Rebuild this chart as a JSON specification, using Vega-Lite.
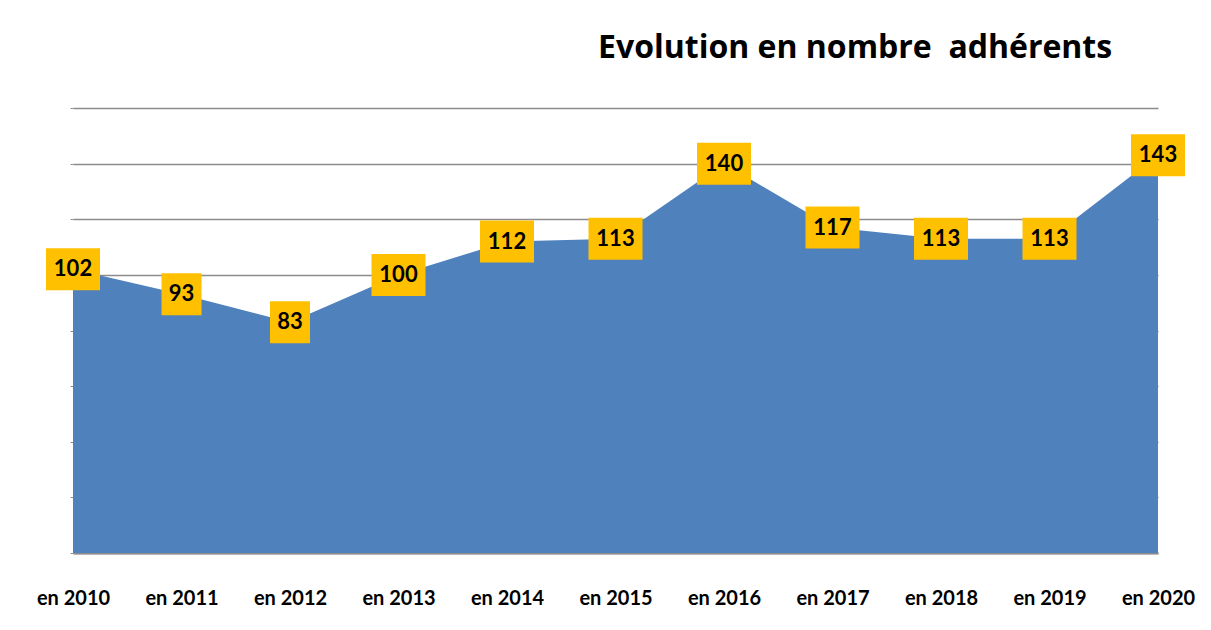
{
  "$schema": "https://vega.github.io/schema/vega-lite/v6.json",
  "autosize": {"type": "none"},
  "width": 1085,
  "height": 445,
  "padding": {"left": 73, "top": 108, "right": 53, "bottom": 77},
  "background": "white",
  "title": {
    "text": "Evolution en nombre\u00a0 adhérents",
    "font": "Open Sans",
    "fontSize": 32,
    "fontWeight": "bold",
    "color": "black",
    "anchor": "start",
    "frame": "group",
    "dx": 525,
    "offset": 43
  },
  "data": {
    "values": [
      {"annee": "2010", "adherents": 102},
      {"annee": "2011", "adherents": 93},
      {"annee": "2012", "adherents": 83},
      {"annee": "2013", "adherents": 100},
      {"annee": "2014", "adherents": 112},
      {"annee": "2015", "adherents": 113},
      {"annee": "2016", "adherents": 140},
      {"annee": "2017", "adherents": 117},
      {"annee": "2018", "adherents": 113},
      {"annee": "2019", "adherents": 113},
      {"annee": "2020", "adherents": 143}
    ]
  },
  "encoding": {
    "x": {
      "field": "annee",
      "type": "ordinal",
      "scale": {"type": "point", "padding": 0},
      "axis": {
        "title": null,
        "labelAngle": 0,
        "labelExpr": "'en ' + datum.label",
        "labelFont": "Lato",
        "labelFontSize": 20,
        "labelFontWeight": "bold",
        "labelColor": "black",
        "labelPadding": 35,
        "labelOverlap": false,
        "ticks": false,
        "grid": false,
        "domainColor": "#8c8c8c",
        "domainWidth": 2
      }
    },
    "y": {
      "field": "adherents",
      "type": "quantitative",
      "scale": {"domain": [0, 160], "nice": false},
      "axis": {
        "title": null,
        "labels": false,
        "domain": false,
        "ticks": true,
        "tickSize": 3,
        "tickColor": "#8c8c8c",
        "values": [0, 20, 40, 60, 80, 100, 120, 140, 160],
        "grid": true,
        "gridColor": "#8c8c8c",
        "gridWidth": 1.5
      }
    }
  },
  "layer": [
    {"mark": {"type": "area", "color": "#4f81bd", "opacity": 1}},
    {
      "transform": [{"filter": "datum.adherents >= 100"}],
      "mark": {"type": "rect", "color": "#ffc000", "width": 54, "height": 42}
    },
    {
      "transform": [{"filter": "datum.adherents < 100"}],
      "mark": {"type": "rect", "color": "#ffc000", "width": 40, "height": 42}
    },
    {
      "mark": {"type": "text", "font": "Lato", "fontSize": 22, "fontWeight": "bold", "color": "black", "baseline": "middle", "align": "center"},
      "encoding": {"text": {"field": "adherents", "type": "quantitative"}}
    }
  ],
  "config": {"view": {"stroke": null}}
}
